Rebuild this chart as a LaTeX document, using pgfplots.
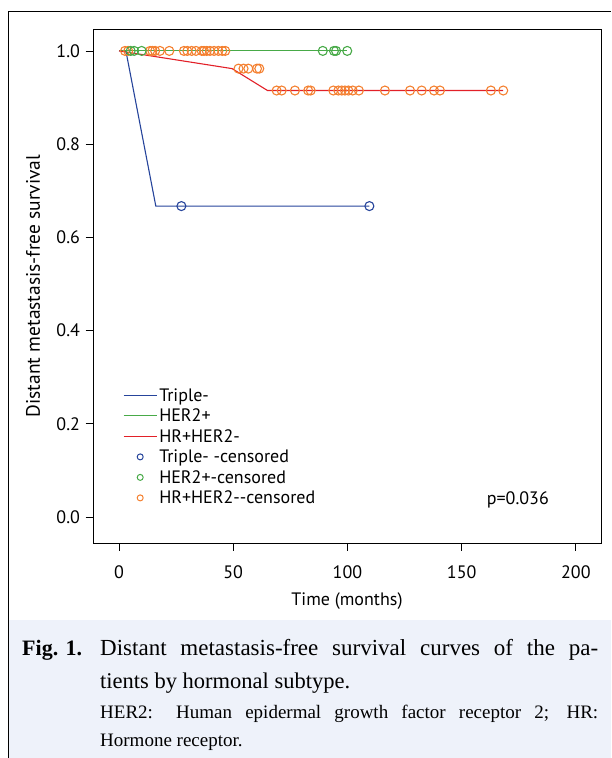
\documentclass[border=0pt]{standalone}
\usepackage{fontspec}
\setmainfont{PT Sans}
\newfontfamily\capfont{Liberation Serif}
\usepackage{pgfplots}
\pgfplotsset{compat=1.18}
\definecolor{kmblue}{RGB}{38,68,155}
\definecolor{kmgreen}{RGB}{72,170,72}
\definecolor{kmred}{RGB}{226,32,40}
\definecolor{kmorange}{RGB}{244,128,48}
\definecolor{capbg}{RGB}{238,242,250}
\pgfplotsset{
  lineleg/.style={legend image code/.code={\draw[##1] (0pt,0pt) -- (33pt,0pt);}},
  markleg/.style={legend image code/.code={\draw[##1] plot coordinates {(16.5pt,0pt)};}},
}

\begin{document}
\begin{tikzpicture}
\useasboundingbox (0pt,0pt) rectangle (611pt,-758pt);
% frame and caption panel
\fill[capbg] (8.5pt,-620pt) rectangle (611pt,-758pt);
\draw[line width=1pt] (8.5pt,-758pt) -- (8.5pt,-11.5pt) -- (611pt,-11.5pt);

\begin{axis}[
    at={(93pt,-543pt)}, anchor=south west,
    scale only axis, width=508pt, height=514pt,
    xmin=-11.4, xmax=211, ymin=-0.056, ymax=1.047,
    xtick={0,50,100,150,200},
    ytick={0,0.2,0.4,0.6,0.8,1},
    yticklabel style={/pgf/number format/.cd,fixed,fixed zerofill,precision=1},
    /pgf/number format/assume math mode=true,
    xtick pos=bottom, ytick pos=left,
    tick align=outside, major tick length=7.5pt,
    tick style={black,line width=0.8pt},
    axis line style={line width=1pt},
    ticklabel style={font=\fontsize{18}{21}\selectfont},
    xticklabel shift=12pt, yticklabel shift=2pt,
    xlabel={Time (months)},
    ylabel={Distant metastasis-free survival},
    xlabel style={font=\fontsize{18}{21}\selectfont,
      at={(axis description cs:0.5,-0.113)},anchor=center},
    ylabel style={font=\fontsize{19.5}{22}\selectfont,
      at={(axis description cs:-0.118,0.5)},anchor=center},
    legend style={draw=none,fill=none,at={(axis cs:0.4,0.285)},anchor=north west,
      font=\fontsize{18}{20.4}\selectfont,row sep=2.2pt},
    legend cell align=left,
    clip=false,
]
  % survival curves
  \addplot[kmblue,line width=1.1pt,lineleg]
    coordinates {(0,1) (3,1) (16.1,0.667) (109.6,0.667)};
  \addlegendentry{Triple-}
  \addplot[kmgreen,line width=1.1pt,lineleg]
    coordinates {(0,1) (100,1)};
  \addlegendentry{HER2+}
  \addplot[kmred,line width=1.1pt,lineleg]
    coordinates {(0,1) (49.5,0.962) (65,0.915) (168.2,0.915)};
  \addlegendentry{HR+HER2-}

  % censored marks
  \addplot[only marks,mark=o,mark size=4.5pt,line width=1.1pt,kmorange,forget plot]
    coordinates {
      (2.6,1) (4.0,1) (13.6,1) (14.6,1) (15.8,1) (17.9,1) (22,1)
      (28.4,1) (29.9,1) (31.8,1) (33.7,1) (36.2,1) (37.2,1) (38.4,1)
      (39.8,1) (41.6,1) (43.5,1) (45.2,1) (46.5,1)
      (52.3,0.962) (54.5,0.962) (56.6,0.962) (60.4,0.962) (61.4,0.962)
      (69,0.915) (71.2,0.915) (77,0.915) (82.8,0.915) (83.9,0.915)
      (93.8,0.915) (96,0.915) (97.5,0.915) (98.9,0.915) (100.4,0.915)
      (102.3,0.915) (105,0.915) (116.4,0.915) (127.4,0.915) (132.5,0.915)
      (137.9,0.915) (140.5,0.915) (162.8,0.915) (168.2,0.915)
    };
  \addplot[only marks,mark=o,mark size=4.5pt,line width=1.1pt,kmgreen,forget plot]
    coordinates {(5.1,1) (6.6,1) (9.9,1) (89.2,1) (94.1,1) (95,1) (99.9,1)};
  \addplot[only marks,mark=o,mark size=4.5pt,line width=1.1pt,kmblue,forget plot]
    coordinates {(27.3,0.667) (109.6,0.667)};

  % legend entries for censored marks
  \addlegendimage{only marks,mark=o,mark size=3pt,line width=1pt,kmblue,markleg}
  \addlegendentry{Triple- -censored}
  \addlegendimage{only marks,mark=o,mark size=3pt,line width=1pt,kmgreen,markleg}
  \addlegendentry{HER2+-censored}
  \addlegendimage{only marks,mark=o,mark size=3pt,line width=1pt,kmorange,markleg}
  \addlegendentry{HR+HER2-{}-censored}

  \node[font=\fontsize{18}{21}\selectfont] at (axis cs:174.6,0.0365) {p=0.036};
\end{axis}

% caption
\node[anchor=base west,inner sep=0pt,font=\capfont\bfseries\fontsize{22}{26}\selectfont]
  at (22pt,-655pt) {Fig. 1.};
\node[anchor=base west,inner sep=0pt,font=\capfont\fontsize{23}{26}\selectfont]
  at (100pt,-655pt) {\makebox[498pt][s]{Distant metastasis-free survival curves of the pa-}};
\node[anchor=base west,inner sep=0pt,font=\capfont\fontsize{22.5}{26}\selectfont]
  at (100pt,-688pt) {tients by hormonal subtype.};
\node[anchor=base west,inner sep=0pt,font=\capfont\fontsize{19}{22}\selectfont]
  at (100pt,-718pt) {\makebox[498pt][s]{HER2: Human epidermal growth factor receptor 2; HR:}};
\node[anchor=base west,inner sep=0pt,font=\capfont\fontsize{19}{22}\selectfont]
  at (100pt,-746pt) {Hormone receptor.};
\end{tikzpicture}
\end{document}
